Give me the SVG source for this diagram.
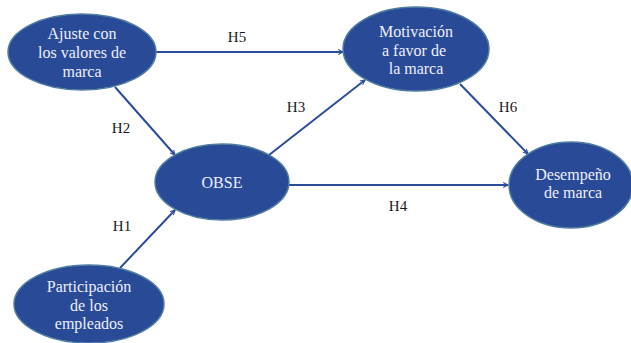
<svg xmlns="http://www.w3.org/2000/svg" width="631" height="343" viewBox="0 0 631 343">
<style>
.node{fill:#294a97;stroke:#4f7d9f;stroke-width:1.5}
.nt{font-family:"Liberation Serif",serif;font-size:16px;fill:#eef0fa;text-anchor:middle}
.edge{stroke:#2b4c9b;stroke-width:2;fill:none;marker-end:url(#arr)}
.lbl{font-family:"Liberation Serif",serif;font-size:15px;fill:#1a1a1a;text-anchor:middle}
</style>
<defs>
<marker id="arr" viewBox="0 0 10 10" refX="9" refY="5" markerWidth="6" markerHeight="6" orient="auto" markerUnits="userSpaceOnUse">
<path d="M1,1 L9,5 L1,9" fill="none" stroke="#2b4c9b" stroke-width="1.8"/>
</marker>
</defs>
<g id="connectors">
<line class="edge" x1="155" y1="52" x2="343" y2="52"/>
<line class="edge" x1="115" y1="87" x2="175" y2="155"/>
<line class="edge" x1="120" y1="268" x2="175" y2="210"/>
<line class="edge" x1="269" y1="155" x2="365" y2="80"/>
<line class="edge" x1="288" y1="185" x2="508" y2="185"/>
<line class="edge" x1="460" y1="84" x2="528" y2="154"/>
<text class="lbl" x="237" y="42">H5</text>
<text class="lbl" x="121" y="133">H2</text>
<text class="lbl" x="296" y="112">H3</text>
<text class="lbl" x="508" y="112">H6</text>
<text class="lbl" x="122" y="231">H1</text>
<text class="lbl" x="398" y="211">H4</text>
</g>
<g id="ajuste">
<ellipse class="node" cx="82" cy="52" rx="74" ry="38"/>
<text class="nt" x="82" y="39">Ajuste con</text>
<text class="nt" x="82" y="58">los valores de</text>
<text class="nt" x="82" y="77">marca</text>
</g>
<g id="motivacion">
<ellipse class="node" cx="416" cy="49" rx="73" ry="42"/>
<text class="nt" x="416" y="37">Motivación</text>
<text class="nt" x="414" y="56">a favor de</text>
<text class="nt" x="416" y="74">la marca</text>
</g>
<g id="obse">
<ellipse class="node" cx="222" cy="182" rx="67" ry="38"/>
<text class="nt" x="222" y="188">OBSE</text>
</g>
<g id="participacion">
<ellipse class="node" cx="89" cy="304" rx="75" ry="39"/>
<text class="nt" x="89" y="292">Participación</text>
<text class="nt" x="89" y="311">de los</text>
<text class="nt" x="89" y="329">empleados</text>
</g>
<g id="desempeno">
<ellipse class="node" cx="571" cy="185" rx="62" ry="43"/>
<text class="nt" x="573" y="180">Desempeño</text>
<text class="nt" x="573" y="198">de marca</text>
</g>
</svg>
